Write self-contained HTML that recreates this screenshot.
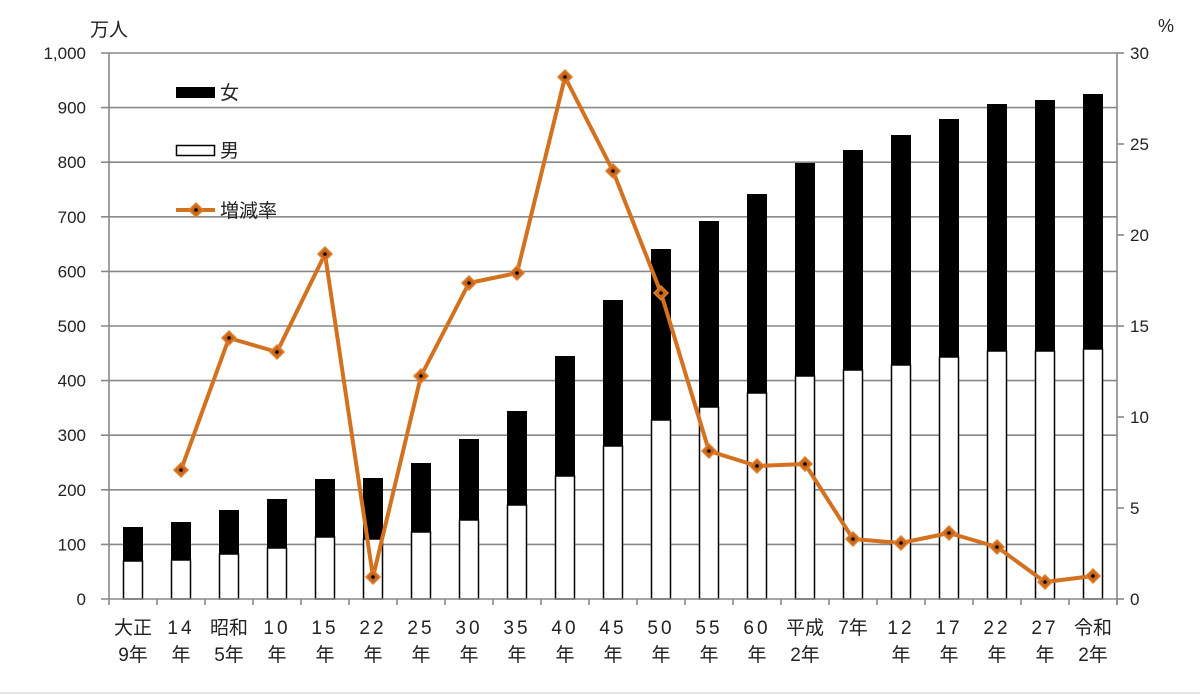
<!DOCTYPE html>
<html><head><meta charset="utf-8"><style>
html,body{margin:0;padding:0;background:#fff;width:1200px;height:694px;overflow:hidden}
svg{display:block}
text{font-family:"Liberation Sans","Noto Sans CJK JP",sans-serif;fill:#222}
</style></head><body>
<svg id="c" width="1200" height="694" xmlns="http://www.w3.org/2000/svg"></svg>
<script>
const s=document.getElementById('c');let h='';
h+='<line x1="0" y1="693" x2="1200" y2="693" stroke="#e4e4e4" stroke-width="2"/>';
const y0=599,pu=0.546;
for(let k=1;k<=10;k++){const y=y0-54.6*k;h+=`<line x1="101" y1="${y}" x2="1117" y2="${y}" stroke="#888" stroke-width="1.6"/>`;}
const L=['0','100','200','300','400','500','600','700','800','900','1,000'];
for(let k=0;k<=10;k++){h+=`<text x="86" y="${y0-54.6*k+6}" font-size="17" text-anchor="end">${L[k]}</text>`;}
for(let k=0;k<=6;k++){const y=y0-91*k;h+=`<line x1="1117" y1="${y}" x2="1124" y2="${y}" stroke="#888" stroke-width="1.6"/><text x="1130" y="${y+6}" font-size="17">${k*5}</text>`;}
h+='<text x="90" y="36" font-size="19">万人</text><text x="1158" y="32" font-size="18">%</text>';
const tot=[527,522,510,499,479,478,463,439,411,356,300,249,221,194,163,150,135,119,104,100,94];
const mal=[561,560,554,548,537,539,532,520,505,476,446,420,407,393,376,370,365,357,351,351,349];
for(let i=0;i<21;i++){const cx=109+24+48*i;
h+=`<rect x="${cx-10}" y="${tot[i]}" width="20" height="${mal[i]-tot[i]}" fill="#000"/>`;
h+=`<rect x="${cx-9.5}" y="${mal[i]}" width="19" height="${y0-mal[i]}" fill="#fff" stroke="#000" stroke-width="1.5"/>`;}
h+='<line x1="109" y1="53" x2="109" y2="599" stroke="#888" stroke-width="1.6"/><line x1="1117" y1="53" x2="1117" y2="605" stroke="#888" stroke-width="1.6"/>';
h+='<line x1="101" y1="599" x2="1117" y2="599" stroke="#888" stroke-width="1.6"/>';
for(let i=0;i<=21;i++){const x=109+48*i;h+=`<line x1="${x}" y1="599" x2="${x}" y2="605" stroke="#888" stroke-width="1.6"/>`;}
const r=[null,470,338,352,254,577,376,283,273,77,171,293,451,466,464,539,543,533,547,582,576];
let pts=[];for(let i=1;i<21;i++)pts.push(`${133+48*i},${r[i]}`);
h+=`<polyline points="${pts.join(' ')}" fill="none" stroke="#d4711f" stroke-width="4" stroke-linejoin="round"/>`;
const dia=(x,y)=>`<polygon points="${x},${y-7} ${x+7},${y} ${x},${y+7} ${x-7},${y}" fill="#c9661b" stroke="#e07f2c" stroke-width="1.5"/><circle cx="${x}" cy="${y}" r="1.8" fill="#000"/>`;
for(let i=1;i<21;i++)h+=dia(133+48*i,r[i]);
const l1=['大正','14','昭和','10','15','22','25','30','35','40','45','50','55','60','平成','7年','12','17','22','27','令和'];
const l2=['9年','年','5年','年','年','年','年','年','年','年','年','年','年','年','2年','','年','年','年','年','2年'];
for(let i=0;i<21;i++){const cx=133+48*i;const sp=/^\d+$/.test(l1[i])?' letter-spacing="3"':'';
h+=`<text x="${cx}" y="634" font-size="19" text-anchor="middle"${sp}>${l1[i]}</text><text x="${cx}" y="661" font-size="19" text-anchor="middle">${l2[i]}</text>`;}
h+='<rect x="176" y="87" width="39" height="11" fill="#000"/><text x="220" y="99" font-size="19">女</text>';
h+='<rect x="176.5" y="145.5" width="38" height="10" fill="#fff" stroke="#000" stroke-width="1.5"/><text x="220" y="157" font-size="19">男</text>';
h+='<line x1="176" y1="210" x2="215" y2="210" stroke="#d4711f" stroke-width="4"/>'+dia(196,210)+'<text x="220" y="217" font-size="19">増減率</text>';
s.innerHTML=h;
</script>
</body></html>
